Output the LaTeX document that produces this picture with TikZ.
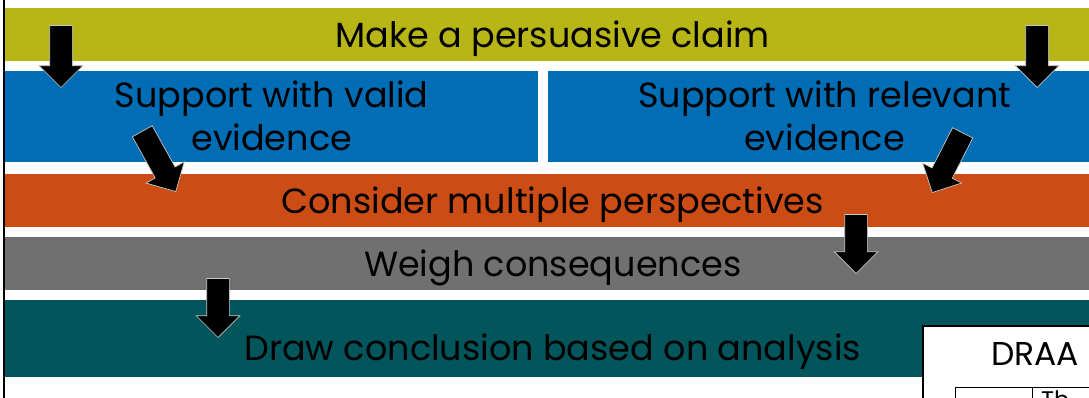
\documentclass[tikz,border=0pt]{standalone}
\usepackage{fontspec}
\setmainfont{Poppins}
\usetikzlibrary{positioning, shapes.arrows}

\definecolor{claimolive}{HTML}{B8B616}
\definecolor{evidblue}{HTML}{006DB5}
\definecolor{persporange}{HTML}{CB4C15}
\definecolor{weighgray}{HTML}{707070}
\definecolor{concteal}{HTML}{02555B}
\definecolor{arrowedge}{HTML}{C8C8C8}

\begin{document}
\begin{tikzpicture}[x=1pt, y=-1pt,
		bar/.style={rectangle, inner sep=0pt, text=black, align=center, font=\fontsize{35}{43}\selectfont},
		onebar/.style={bar, text height=25pt, text depth=0pt},
		blockarrow/.style={single arrow, fill=black, draw=arrowedge, line width=0.7pt, inner xsep=0pt, inner ysep=11pt, single arrow head extend=10.5pt, single arrow tip angle=90, minimum height=#1, anchor=tip},
		blockarrow/.default=60pt]
		\useasboundingbox (0,0) rectangle (1089,398);
		
		\node[onebar, fill=claimolive, minimum width=1095pt, minimum height=53pt, anchor=north west] (claim) at (5,8) {Make a persuasive claim};
		\node[bar, fill=evidblue, minimum width=533pt, minimum height=91pt, below=9pt of claim.south west, anchor=north west] (valid) {Support with valid\\evidence};
		\node[bar, fill=evidblue, minimum width=554pt, minimum height=91pt, right=9pt of valid] (relevant) {Support with relevant\\evidence};
		\node[onebar, fill=persporange, minimum width=1095pt, minimum height=53pt, below=12pt of valid.south west, anchor=north west] (persp) {Consider multiple perspectives};
		\node[onebar, fill=weighgray, minimum width=1095pt, minimum height=53pt, below=10pt of persp.south west, anchor=north west] (weigh) {Weigh consequences};
		\node[bar, fill=concteal, minimum width=1095pt, minimum height=77pt, below=9pt of weigh.south west, anchor=north west] (conc) {};
		\node[onebar] (conctext) at ([yshift=-10pt]conc.center) {Draw conclusion based on analysis};
		
		% table box in the corner
		\draw[fill=white, line width=2pt] (923,326) rectangle (1110,420);
		\node[anchor=base west, inner sep=0pt, font=\fontsize{33}{40}\selectfont] (draa) at (991,365) {DRAA};
		\draw[line width=1pt] (955,420) -- (955,387) -- (1110,387);
		\draw[line width=1pt] (1032,387) -- (1032,420);
		\node[anchor=north west, inner sep=0pt, font=\fontsize{24}{28}\selectfont] (tabletext) at (1041,391) {Th};
		
		\draw[line width=1.5pt] (4,0) -- (4,398);
		
		\node[blockarrow=62pt, rotate=-90] (claimtovalid) at (61,88) {};
		\node[blockarrow=62pt, rotate=-90] (claimtorelevant) at (1037,88) {};
		\node[blockarrow=69pt, rotate=-61] (validtopersp) at (176,192) {};
		\node[blockarrow=67pt, rotate=-117] (relevanttopersp) at (932,193) {};
		\node[blockarrow=59pt, rotate=-90] (persptoweigh) at (856,274) {};
		\node[blockarrow=59pt, rotate=-90] (weightoconc) at (218,338) {};
	\end{tikzpicture}
\end{document}
